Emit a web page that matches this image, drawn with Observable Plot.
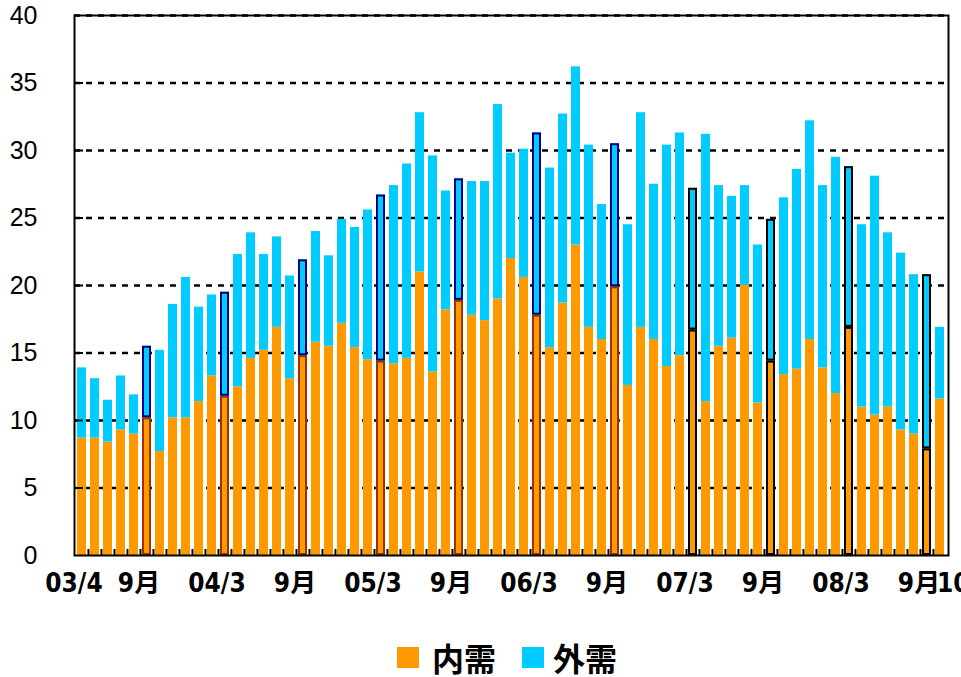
<!DOCTYPE html>
<html><head><meta charset="utf-8">
<script src="https://cdn.jsdelivr.net/npm/d3@7"></script>
<script src="https://cdn.jsdelivr.net/npm/@observablehq/plot@0.6"></script>
<style>
html,body{margin:0;padding:0;background:#fff;overflow:hidden;}
#chart{width:961px;}
.legend{position:relative;height:57px;width:961px;font-family:"Noto Sans CJK JP";font-weight:bold;font-size:32px;color:#000;}
.legend .sw{position:absolute;top:27px;width:22px;height:21px;}
.legend .lb{position:absolute;top:21px;line-height:32px;white-space:nowrap;}
</style></head><body>
<div id="chart"></div>
<script>
const months = [
  "03/04","03/05","03/06","03/07","03/08","03/09","03/10","03/11","03/12",
  "04/01","04/02","04/03","04/04","04/05","04/06","04/07","04/08","04/09","04/10","04/11","04/12",
  "05/01","05/02","05/03","05/04","05/05","05/06","05/07","05/08","05/09","05/10","05/11","05/12",
  "06/01","06/02","06/03","06/04","06/05","06/06","06/07","06/08","06/09","06/10","06/11","06/12",
  "07/01","07/02","07/03","07/04","07/05","07/06","07/07","07/08","07/09","07/10","07/11","07/12",
  "08/01","08/02","08/03","08/04","08/05","08/06","08/07","08/08","08/09","08/10"
];
// 内需
const domestic = [
  8.7, 8.7, 8.4, 9.3, 9.0, 10.2, 7.7, 10.2, 10.2,
  11.4, 13.3, 11.8, 12.5, 14.6, 15.2, 16.9, 13.1, 14.8, 15.8, 15.5, 17.2,
  15.4, 14.5, 14.4, 14.2, 14.6, 21.0, 13.6, 18.2, 18.9, 17.8, 17.4, 19.0,
  22.0, 20.6, 17.8, 15.4, 18.7, 23.0, 16.9, 16.0, 19.9, 12.6, 16.9, 16.0,
  14.0, 14.8, 16.7, 11.4, 15.5, 16.1, 20.0, 11.3, 14.4, 13.4, 13.8, 16.0,
  13.9, 12.0, 16.9, 11.0, 10.4, 11.0, 9.3, 9.0, 7.9, 11.6
];
// 外需
const foreign = [
  5.2, 4.4, 3.1, 4.0, 2.9, 5.3, 7.5, 8.4, 10.4,
  7.0, 6.0, 7.7, 9.8, 9.3, 7.1, 6.7, 7.6, 7.1, 8.2, 6.7, 7.7,
  8.9, 11.1, 12.3, 13.2, 14.4, 11.8, 16.0, 8.8, 9.0, 9.9, 10.3, 14.4,
  7.8, 9.5, 13.5, 13.3, 14.0, 13.2, 13.5, 10.0, 10.6, 11.9, 15.9, 11.5,
  16.4, 16.5, 10.5, 19.8, 11.9, 10.5, 7.4, 11.7, 10.5, 13.1, 14.8, 16.2,
  13.5, 17.5, 11.9, 13.5, 17.7, 12.9, 13.1, 11.8, 12.9, 5.3
];
const seriesNames = ["内需", "外需"];
const highlightEarly = ["03/09","04/03","04/09","05/03","05/09","06/03","06/09"];
const highlightLate = ["07/03","07/09","08/03","08/09"];
const tickMonths = ["03/04","03/09","04/03","04/09","05/03","05/09","06/03","06/09","07/03","07/09","08/03","08/09"];
const tickLabels = ["03/4","9月","04/3","9月","05/3","9月","06/3","9月","07/3","9月","08/3","9月"];
const endMonth = ["08/10"];
const endLabel = ["10"];
const yTicks = [0, 5, 10, 15, 20, 25, 30, 35, 40];
const gridValues = [5, 10, 15, 20, 25, 30, 35, 40];

const ORANGE = "#FF9900", BLUE = "#00CCFF";
const rows = months.map((m, i) => ({month: m, dom: domestic[i], total: +(domestic[i] + foreign[i]).toFixed(2)}));
const early = rows.filter(r => highlightEarly.includes(r.month));
const late = rows.filter(r => highlightLate.includes(r.month));
const labelRows = tickMonths.map((m, i) => ({month: m, label: tickLabels[i]}));
const endRows = endMonth.map((m, i) => ({month: m, label: endLabel[i]}));

const W = 961, H = 620, mL = 74, mR = 13, mT = 15, mB = 65;
const pIn = 0.27, pOut = 0.1;
const innerW = W - mL - mR, innerH = H - mT - mB;
const step = innerW / (months.length - pIn + 2 * pOut);
const labelFont = "'DejaVu Sans Condensed', 'Noto Sans CJK JP', sans-serif";

const chart = Plot.plot({
  width: W, height: H,
  marginLeft: mL, marginRight: mR, marginTop: mT, marginBottom: mB,
  style: {background: "#fff", fontFamily: "'Liberation Sans', Arial, sans-serif", overflow: "visible"},
  x: {type: "band", domain: months, paddingInner: pIn, paddingOuter: pOut, axis: null},
  y: {domain: [0, 40]},
  marks: [
    Plot.ruleY(gridValues, {stroke: "#000", strokeWidth: 2.5, strokeDasharray: "6,6"}),
    Plot.barY(rows, {x: "month", y1: 0, y2: "dom", fill: ORANGE}),
    Plot.barY(rows, {x: "month", y1: "dom", y2: "total", fill: BLUE}),
    Plot.barY(early, {x: "month", y1: 0, y2: "dom", fill: "none", stroke: "#993300", strokeWidth: 2, inset: 1}),
    Plot.barY(early, {x: "month", y1: "dom", y2: "total", fill: "none", stroke: "#000080", strokeWidth: 2, inset: 1}),
    Plot.barY(late, {x: "month", y1: 0, y2: "dom", fill: "none", stroke: "#000", strokeWidth: 2, inset: 1}),
    Plot.barY(late, {x: "month", y1: "dom", y2: "total", fill: "none", stroke: "#000", strokeWidth: 2, inset: 1}),
    Plot.ruleY(gridValues.slice(0, -1), {stroke: "#000", strokeWidth: 2, insetRight: innerW - 9}),
    Plot.ruleX(months.slice(1), {x: d => d, dx: -step / 2, stroke: "#000", strokeWidth: 2, insetTop: innerH - 6}),
    Plot.frame({stroke: "#000", strokeWidth: 2}),
    Plot.axisY({ticks: yTicks, tickSize: 0, tickPadding: 37, fontSize: 25, fontFamily: "'Liberation Sans', Arial, sans-serif", label: null, fill: "#000"}),
    Plot.text(labelRows, {x: "month", text: "label", frameAnchor: "bottom", dy: 36, dx: -8, fontSize: 26, fontWeight: "bold", fontFamily: labelFont, fill: "#000"}),
    Plot.text(endRows, {x: "month", text: "label", frameAnchor: "bottom", dy: 36, dx: -3, textAnchor: "start", fontSize: 26, fontWeight: "bold", fontFamily: labelFont, fill: "#000"})
  ]
});
document.getElementById("chart").appendChild(chart);

const legend = document.createElement("div");
legend.className = "legend";
legend.innerHTML =
  `<span class="sw" style="left:397px;background:${ORANGE}"></span>` +
  `<span class="lb" style="left:432px">${seriesNames[0]}</span>` +
  `<span class="sw" style="left:522px;background:${BLUE}"></span>` +
  `<span class="lb" style="left:553px">${seriesNames[1]}</span>`;
document.body.appendChild(legend);
</script>
</body></html>
